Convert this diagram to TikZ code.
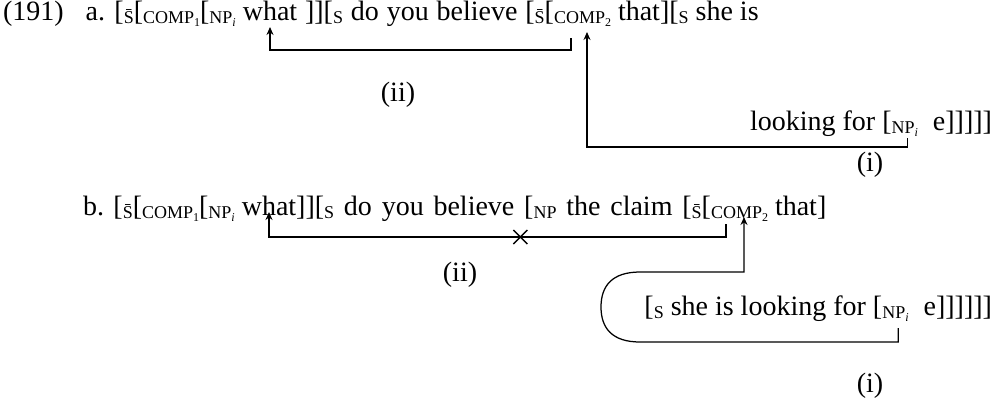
\documentclass[tikz,border=0pt]{standalone}
\usepackage{fontspec}
\setmainfont{Liberation Serif}
\usetikzlibrary{arrows.meta,calc}
\newcommand{\lbl}[1]{\raisebox{-0.3ex}{\fontsize{18}{18}\selectfont #1}}
\newcommand{\nsub}[1]{\raisebox{-0.3ex}{\fontsize{12}{12}\selectfont #1}}
\newcommand{\Sbar}{\lbl{\=S}}
\begin{document}
\begin{tikzpicture}[x=1pt,y=-1pt,
  txt/.style={inner sep=0pt,outer sep=0pt,font=\fontsize{28}{32}\selectfont},
  lnk/.style={line width=1.25pt},
  arr/.style={lnk,-{Stealth[length=8pt,width=7pt]}}]
\useasboundingbox (0,0) rectangle (998,400);
% ---------- line a ----------
\node[txt,anchor=base west] (num) at (3,20) {(191)};
\node[txt,anchor=base] (aH) at (270,20) {h};
\node[txt,anchor=base east] (a1) at (aH.base west) {a. [\Sbar[\lbl{COMP\nsub{1}}[\lbl{NP\nsub{\textit{i}}} w};
\node[txt,anchor=base west] (aC) at (554,20) {\lbl{COMP}};
\path let \p1=(aH.base east), \p2=(aC.base west), \n1={\x2-\x1} in
  node[txt,anchor=base west] (a2) at (aH.base east) {\makebox[\n1][s]{at ]][\lbl{S} do you believe [\Sbar[}};
\node[txt,anchor=base west] (a3) at (aC.base east) {\lbl{\nsub{2}} that][\lbl{S} she is};
\node[txt,anchor=base east] (a2e) at (992,130) {\hspace{15pt}e]]]]]};
\node[txt,anchor=base east] (a2n) at (a2e.base west) {\lbl{NP\nsub{\textit{i}}}};
\node[txt,anchor=base east] (a2l) at (a2n.base west) {looking for [};
\node[txt] (ia2) at (398,95) {(ii)};
\node[txt] (ia1) at (870,165) {(i)};
% arrows of a
\coordinate (aTk) at ($(aC.base west)+(17,18)$);
\coordinate (aTip) at ($(aH.base)+(0,7)$);
\coordinate (aArr) at ($(aC.base west)+(33,12)$);
\coordinate (aTkI) at ($(a2n.base west)+(16,8)$);
\draw[arr] (aTk) -- (aTk |- 0,50) -| (aTip);
\draw[arr] (aTkI) -- (aTkI |- 0,147) -| (aArr);
% ---------- line b ----------
\node[txt,anchor=base] (bH) at (269,215) {h};
\node[txt,anchor=base east] (b1) at (bH.base west) {b. [\Sbar[\lbl{COMP\nsub{1}}[\lbl{NP\nsub{\textit{i}}} w};
\node[txt,anchor=base west] (bC) at (711,215) {\lbl{COMP}};
\path let \p1=(bH.base east), \p2=(bC.base west), \n1={\x2-\x1} in
  node[txt,anchor=base west] (b2) at (bH.base east) {\makebox[\n1][s]{at]][\lbl{S} do you believe [\lbl{NP} the claim [\Sbar[}};
\node[txt,anchor=base west] (b3) at (bC.base east) {\lbl{\nsub{2}} that]};
\node[txt,anchor=base east] (b2e) at (992,315) {\hspace{15pt}e]]]]]]};
\node[txt,anchor=base east] (b2n) at (b2e.base west) {\lbl{NP\nsub{\textit{i}}}};
\node[txt,anchor=base east] (b2l) at (b2n.base west) {[\lbl{S} she is looking for [};
\node[txt] (ib2) at (460,275) {(ii)};
\node[txt] (ib1) at (870,386) {(i)};
% arrows of b
\coordinate (bTk) at ($(bC.base west)+(15,9)$);
\coordinate (bTip) at ($(bH.base)+(0,-3)$);
\coordinate (bArr) at ($(bC.base west)+(33,2)$);
\coordinate (bTkI) at ($(b2n.base west)+(16,13)$);
\coordinate (bL1) at (640,272);
\coordinate (bL2) at (640,342);
\draw[arr] (bTk) -- (bTk |- 0,237) -| (bTip);
\draw[arr] (bTkI) -- (bTkI |- bL2) -- (bL2) .. controls (612,342) and (601,328) .. (601,307) .. controls (601,286) and (612,272) .. (bL1) -| (bArr);
\coordinate (x) at ($(bH |- 0,237)!0.55!(bTk |- 0,237)$);
\draw[line width=1.4pt] ($(x)+(-7,-7)$) -- ($(x)+(7,7)$) ($(x)+(-7,7)$) -- ($(x)+(7,-7)$);
\end{tikzpicture}
\end{document}
